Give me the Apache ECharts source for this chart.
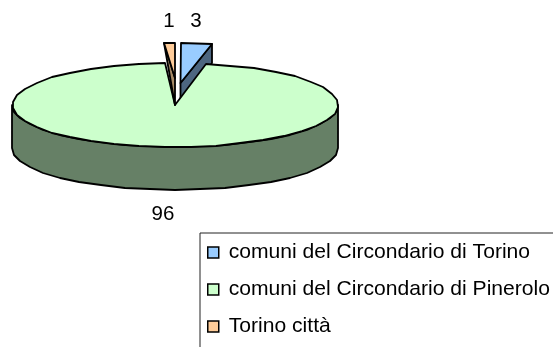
<!DOCTYPE html>
<html>
<head>
<meta charset="utf-8">
<style>
  html, body { margin: 0; padding: 0; background: #fff; }
  #chart { width: 553px; height: 347px; }
</style>
<script src="https://cdn.jsdelivr.net/npm/echarts@6/dist/echarts.min.js"></script>
</head>
<body>
<div id="chart"></div>
<script>
const categories = ["comuni del Circondario di Torino", "comuni del Circondario di Pinerolo", "Torino città"];
const values = [3, 96, 1];
const total = values.reduce((a, b) => a + b, 0);

const FONT = '"Liberation Sans", Arial, sans-serif';
const colors = ["#99CCFF", "#CCFFCC", "#FFCC99"];
const shades = ["#4D6680", "#668066", "#A68A66"];

// fake 3D pie: an ellipse for the top face, a wall below it
const pie = { cx: 175, cy: 105, rx: 163, ry: 42, depth: 43 };

// exploded slices are placed by hand to follow the original rendering
const sliceLayout = [
  { dx: 5.5, dy: -22, rx: 170, ry: 40, wall: 19, label: { x: 196, y: 21 } },
  { dx: 0, dy: 0, rx: pie.rx, ry: pie.ry, wall: pie.depth, label: { x: 163, y: 214 } },
  { dx: 0, dy: -27, rx: 183, ry: 35, wall: 27, label: { x: 169, y: 21 } },
];

// angle 0 is at the top, clockwise; the last slice ends at 360
const slices = [];
let cum = 0;
values.forEach((v) => {
  slices.push({ start: (cum / total) * 360, end: ((cum + v) / total) * 360 });
  cum += v;
});

function pointAt(deg, layout, extraY) {
  const a = (deg * Math.PI) / 180;
  return [
    Math.round(pie.cx + layout.dx + layout.rx * Math.sin(a)),
    Math.round(pie.cy + layout.dy - layout.ry * Math.cos(a) + (extraY || 0)),
  ];
}

function arc(from, to, layout, extraY) {
  const pts = [];
  const n = Math.max(1, Math.round((to - from) / 9));
  for (let i = 0; i <= n; i++) pts.push(pointAt(from + ((to - from) * i) / n, layout, extraY));
  return pts;
}

function poly(points, fill) {
  return {
    type: "polygon",
    shape: { points },
    style: { fill, stroke: "#000", lineWidth: 1.8, lineJoin: "round" },
  };
}

function renderSlice(index) {
  const s = slices[index];
  const l = sliceLayout[index];
  const apex = [pie.cx + l.dx, pie.cy + l.dy];
  const children = [];

  if (index === 1) {
    const front = arc(90, 270, l);
    const back = arc(90, 270, l, l.wall).reverse();
    children.push(poly(front.concat(back), shades[index]));
    children.push(poly([apex].concat(arc(s.start, s.end, l)), colors[index]));
  } else if (index === 0) {
    const a = pointAt(s.end, l);
    children.push(poly([a, apex, [apex[0], apex[1] + l.wall], [a[0], a[1] + l.wall]], shades[index]));
    children.push(poly([apex].concat(arc(s.start, s.end, l)), colors[index]));
  } else {
    const a = pointAt(s.start, l);
    children.push(poly([a, apex, [apex[0], apex[1] + l.wall]], shades[index]));
    children.push(poly([apex].concat(arc(s.start, s.end, l)), colors[index]));
  }

  children.push({
    type: "text",
    style: {
      text: String(values[index]),
      x: l.label.x,
      y: l.label.y,
      align: "center",
      verticalAlign: "middle",
      font: "20.5px " + FONT,
      fill: "#000",
    },
  });
  return { type: "group", children };
}

const chart = echarts.init(document.getElementById("chart"), null, { renderer: "canvas" });

chart.setOption({
  animation: false,
  backgroundColor: "#fff",
  legend: {
    orient: "vertical",
    left: 207,
    top: 242,
    padding: 0,
    data: categories,
    icon: "rect",
    itemWidth: 11,
    itemHeight: 11,
    itemGap: 16,
    selectedMode: false,
    itemStyle: { borderColor: "#000", borderWidth: 1.5 },
    textStyle: { fontFamily: FONT, fontSize: 21.1, color: "#000", padding: [0, 0, 0, 5] },
  },
  graphic: [
    {
      type: "polyline",
      shape: { points: [[200, 347], [200, 233], [553, 233]] },
      style: { stroke: "#222", lineWidth: 1, fill: null },
    },
  ],
  series: categories.map((name, i) => ({
    type: "custom",
    name,
    coordinateSystem: "none",
    silent: true,
    itemStyle: { color: colors[i] },
    data: [values[i]],
    renderItem: () => renderSlice(i),
  })),
});
</script>
</body>
</html>
